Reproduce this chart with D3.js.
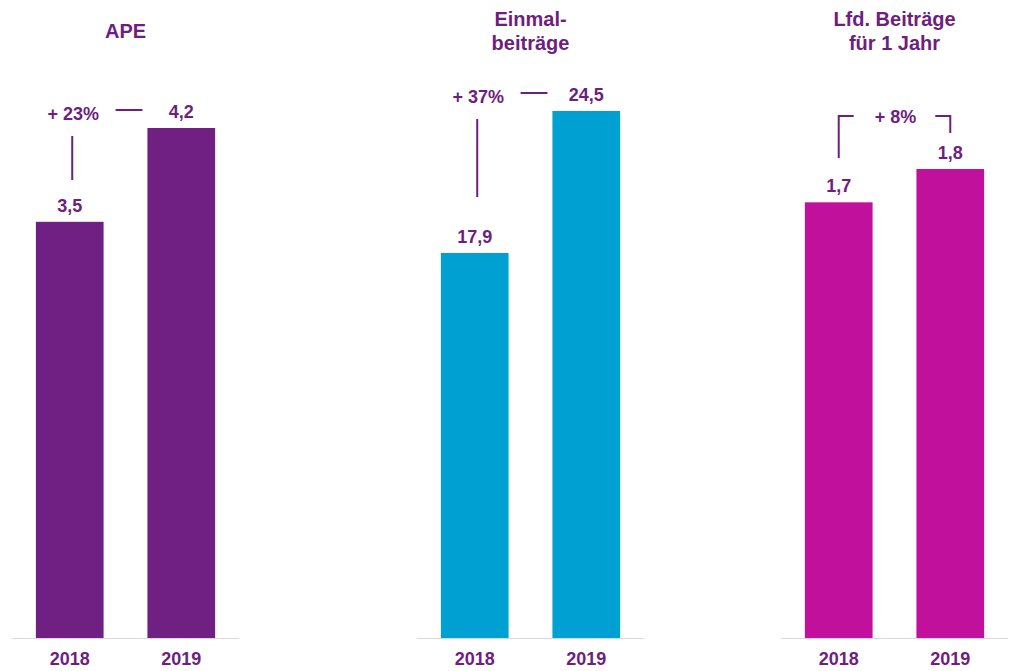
<!DOCTYPE html>
<html>
<head>
<meta charset="utf-8">
<script src="https://cdn.jsdelivr.net/npm/d3@7"></script>
<style>
  body { margin: 0; background: #fff; }
  text { font-family: "Liberation Sans", Arial, sans-serif; font-weight: bold; fill: #6e1e7e; }
</style>
</head>
<body>
<div id="chart"></div>
<script>
// Data
const years = ['2018', '2019'];
const panelTitles = [['APE'], ['Einmal-', 'beiträge'], ['Lfd. Beiträge', 'für 1 Jahr']];
const apeValues = [3.46, 4.24];
const einmalValues = [17.9, 24.5];
const lfdValues = [1.70, 1.83];
const growthLabels = ['+ 23%', '+ 37%', '+ 8%'];
const barColors = ['#6f2082', '#00a0d2', '#c1119c'];

// Layout
const width = 1015, height = 671;
const baseY = 638;
const panelX = [[12, 239], [417, 644], [781, 1008]];
const panelTop = [128, 111, 169];   // pixel top of the tallest bar in each panel
const purple = '#6e1e7e';

const de = d3.formatLocale({decimal: ',', thousands: '.', grouping: [3], currency: ['', ' €']});
const fmt = de.format('.1f');

const svg = d3.select('#chart').append('svg')
    .attr('width', width)
    .attr('height', height);

function drawPanel(i, values) {
    const [x0, x1] = panelX[i];
    const x = d3.scaleBand().domain(years).range([x0, x1])
        .paddingInner(0.393).paddingOuter(0.214);
    const y = d3.scaleLinear().domain([0, d3.max(values)]).range([baseY, panelTop[i]]);
    const data = years.map((yr, j) => ({year: yr, value: values[j]}));
    const g = svg.append('g');

    // title
    const lines = panelTitles[i];
    const t = g.append('text')
        .attr('x', (x0 + x1) / 2)
        .attr('y', lines.length == 1 ? 38 : 26)
        .attr('text-anchor', 'middle')
        .style('font-size', '20px');
    lines.forEach((l, k) => {
        t.append('tspan').attr('x', (x0 + x1) / 2).attr('dy', k == 0 ? 0 : 24).text(l);
    });

    // bars
    g.selectAll('rect').data(data).enter().append('rect')
        .attr('x', d => x(d.year))
        .attr('y', d => y(d.value))
        .attr('width', x.bandwidth())
        .attr('height', d => baseY - y(d.value))
        .attr('fill', barColors[i]);

    // baseline
    g.append('line')
        .attr('x1', x0).attr('x2', x1)
        .attr('y1', baseY + 0.5).attr('y2', baseY + 0.5)
        .attr('stroke', '#d9d9d9').attr('stroke-width', 1);

    // value labels
    g.selectAll('.val').data(data).enter().append('text')
        .attr('class', 'val')
        .attr('x', d => x(d.year) + x.bandwidth() / 2)
        .attr('y', d => y(d.value) - 10)
        .attr('text-anchor', 'middle')
        .style('font-size', '18px')
        .text(d => fmt(d.value));

    // year labels
    g.selectAll('.yr').data(data).enter().append('text')
        .attr('class', 'yr')
        .attr('x', d => x(d.year) + x.bandwidth() / 2)
        .attr('y', 665)
        .attr('text-anchor', 'middle')
        .style('font-size', '18px')
        .text(d => d.year);

    // growth annotation
    const c0 = x(years[0]) + x.bandwidth() / 2;
    const c1 = x(years[1]) + x.bandwidth() / 2;
    const top1 = y(values[1]);
    const line = (xa, ya, xb, yb) => g.append('line')
        .attr('x1', xa).attr('y1', ya).attr('x2', xb).attr('y2', yb)
        .attr('stroke', purple).attr('stroke-width', 2);

    if (i < 2) {
        const ty = top1 - 8;
        g.append('text')
            .attr('x', c0 + 3.5).attr('y', ty)
            .attr('text-anchor', 'middle')
            .style('font-size', '18px')
            .text(growthLabels[i]);
        line(x(years[0]) + x.bandwidth() + 12, top1 - 18, x(years[1]) - 5, top1 - 18);
        const len = [44, 78][i];
        line(c0 + 2.5, ty + 16, c0 + 2.5, ty + 16 + len);
    } else {
        const ty = top1 - 46;
        g.append('text')
            .attr('x', (c0 + c1) / 2 + 1).attr('y', ty)
            .attr('text-anchor', 'middle')
            .style('font-size', '18px')
            .text(growthLabels[i]);
        const by = ty - 7;
        g.append('path')
            .attr('d', `M${c0},${by + 42}V${by}H${c0 + 15}`)
            .attr('fill', 'none').attr('stroke', purple).attr('stroke-width', 2);
        g.append('path')
            .attr('d', `M${c1 - 15},${by}H${c1}V${by + 17}`)
            .attr('fill', 'none').attr('stroke', purple).attr('stroke-width', 2);
    }
}

drawPanel(0, apeValues);
drawPanel(1, einmalValues);
drawPanel(2, lfdValues);
</script>
</body>
</html>
